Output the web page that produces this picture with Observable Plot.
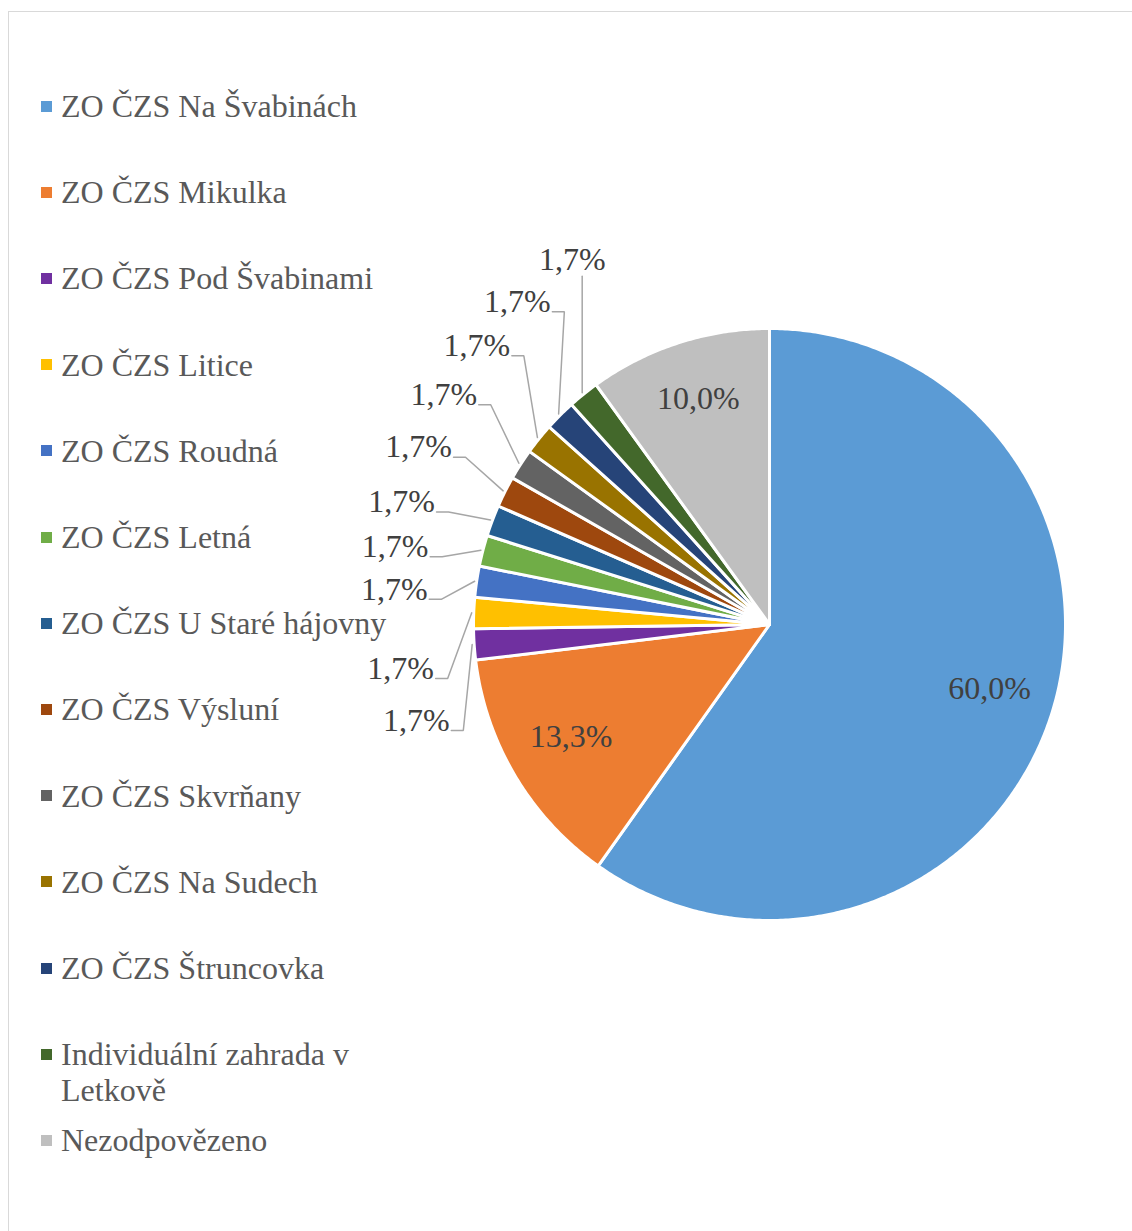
<!DOCTYPE html>
<html>
<head>
<meta charset="utf-8">
<script src="https://cdn.jsdelivr.net/npm/d3@7"></script>
<script src="https://cdn.jsdelivr.net/npm/@observablehq/plot@0.6"></script>
<style>
html,body{margin:0;padding:0;background:#fff;overflow:hidden}
#wrap{position:relative;width:1132px;height:1231px;font-family:"Liberation Serif","Times New Roman",serif;overflow:hidden}
#frame{position:absolute;left:8px;top:11px;width:1300px;height:1400px;border-left:1.5px solid #d9d9d9;border-top:1.5px solid #d9d9d9;box-sizing:border-box}
#chart{position:absolute;left:0;top:0}
.lg-item{position:absolute;left:0;height:86px}
.lg-mark{position:absolute;left:41px;top:12.5px;width:11px;height:11px}
.lg-text{position:absolute;left:61px;top:0;width:340px;font-size:32px;line-height:36px;color:#595959;white-space:normal}
</style>
</head>
<body>
<div id="wrap">
  <div id="frame"></div>
  <div id="legend"></div>
  <div id="chart"></div>
</div>
<script>
// ---- data ----
const categories = [
  "ZO ČZS Na Švabinách",
  "ZO ČZS Mikulka",
  "ZO ČZS Pod Švabinami",
  "ZO ČZS Litice",
  "ZO ČZS Roudná",
  "ZO ČZS Letná",
  "ZO ČZS U Staré hájovny",
  "ZO ČZS Výsluní",
  "ZO ČZS Skvrňany",
  "ZO ČZS Na Sudech",
  "ZO ČZS Štruncovka",
  "Individuální zahrada v Letkově",
  "Nezodpovězeno"
];
const shares = [60.0, 13.3, 1.7, 1.7, 1.7, 1.7, 1.7, 1.7, 1.7, 1.7, 1.7, 1.7, 10.0];
const colors = ["#5B9BD5","#ED7D31","#7030A0","#FFC000","#4472C4","#70AD47","#255E91","#9E480E","#636363","#997300","#264478","#43682B","#BFBFBF"];

// ---- layout constants ----
const W = 1132, H = 1231, CX = 769, CY = 624, R = 296;
const fmt = v => d3.format(".1f")(v).replace(".", ",") + "%";

// ---- legend (HTML) ----
const lg = document.getElementById("legend");
const legendBoxes = [];
categories.forEach((c, i) => {
  const it = document.createElement("div");
  it.className = "lg-item";
  it.style.top = (88 + i * 86.2) + "px";
  const m = document.createElement("div");
  m.className = "lg-mark";
  m.style.background = colors[i];
  const t = document.createElement("div");
  t.className = "lg-text";
  const s = document.createElement("span");
  s.textContent = c;
  t.appendChild(s);
  it.appendChild(m); it.appendChild(t);
  lg.appendChild(it);
});
lg.querySelectorAll(".lg-text span").forEach(s => {
  for (const r of s.getClientRects()) legendBoxes.push({x0: r.left, x1: r.right, y0: r.top, y1: r.bottom});
});

// ---- pie geometry ----
const table = categories.map((c, i) => ({cat: c, value: shares[i]}));
const arcs = d3.pie().sort(null).value(d => d.value).startAngle(0).endAngle(2 * Math.PI)(table);

const slicePts = [];
for (const a of arcs) {
  slicePts.push({cat: a.data.cat, x: 0, y: 0});
  const n = Math.max(2, Math.ceil((a.endAngle - a.startAngle) / (0.5 * Math.PI / 180)));
  for (let k = 0; k <= n; k++) {
    const t = a.startAngle + (a.endAngle - a.startAngle) * k / n;
    slicePts.push({cat: a.data.cat, x: Math.sin(t), y: Math.cos(t)});
  }
}

const mid = a => (a.startAngle + a.endAngle) / 2;
const isSmall = a => a.data.value < 5;
const deg = Math.PI / 180;

// inside labels
const inner = arcs.filter(a => !isSmall(a)).map(a => ({
  label: fmt(a.data.value), x: 0.78 * Math.sin(mid(a)), y: 0.78 * Math.cos(mid(a)) + 0.02
}));

// outside labels: fanned around the small slices, nudged off the legend and each other
const small = arcs.filter(isSmall);
const groupMid = d3.mean(small, mid) - 1 * deg;
const step = 8.4 * deg;
const rIn = 366 / R, rOut = 415 / R;
const halfW = 33, halfH = 16, gap = 10; // px
const placed = [];
const overlaps = (b, c, pad = 0) => b.x0 < c.x1 && b.x1 > c.x0 && b.y0 - pad < c.y1 && b.y1 + pad > c.y0;
const outer = small.map((a, i) => {
  let ang = groupMid + (i - (small.length - 1) / 2) * step;
  const rr = rIn + (rOut - rIn) * i / (small.length - 1);
  let px, py, box;
  for (let it = 0; it < 120; it++) {
    px = CX + R * rr * Math.sin(ang);
    py = CY - R * rr * Math.cos(ang);
    box = {x0: px - halfW, x1: px + halfW, y0: py - halfH, y1: py + halfH};
    if (!legendBoxes.some(b => overlaps(box, b)) && !placed.some(b => overlaps(box, b, gap))) break;
    ang += 0.25 * deg;
  }
  placed.push(box);
  return {id: i, label: fmt(a.data.value), x: (px - CX) / R, y: (CY - py) / R,
          ex: (1 + 2 / R) * Math.sin(mid(a)), ey: (1 + 2 / R) * Math.cos(mid(a))};
});
const hw = halfW / R;
const leaderPts = [];
for (const o of outer) {
  const right = o.x + hw;
  if (o.ex > right + 4 / R) {
    const ly = o.y - 10 / R;
    leaderPts.push({id: o.id, x: right + 2 / R, y: ly});
    leaderPts.push({id: o.id, x: right + 14 / R, y: ly});
    leaderPts.push({id: o.id, x: o.ex, y: o.ey});
  } else {
    leaderPts.push({id: o.id, x: o.ex, y: o.y - 17 / R});
    leaderPts.push({id: o.id, x: o.ex, y: o.ey});
  }
}

const chart = Plot.plot({
  width: W, height: H, margin: 0,
  x: {domain: [-CX / R, (W - CX) / R], range: [0, W], axis: null},
  y: {domain: [-(H - CY) / R, CY / R], range: [H, 0], axis: null},
  color: {domain: categories, range: colors},
  style: {background: "transparent", overflow: "visible"},
  marks: [
    Plot.line(slicePts, {x: "x", y: "y", z: "cat", fill: "cat", stroke: "white", strokeWidth: 3, curve: "linear-closed", strokeLinejoin: "round"}),
    Plot.line(leaderPts, {x: "x", y: "y", z: "id", stroke: "#a6a6a6", strokeWidth: 1.5, curve: "linear", strokeLinejoin: "miter"}),
    Plot.text(inner, {x: "x", y: "y", text: "label", fontSize: 32, fontFamily: "Liberation Serif", fill: "#404040", textAnchor: "middle", lineAnchor: "middle"}),
    Plot.text(outer, {x: "x", y: "y", text: "label", fontSize: 32, fontFamily: "Liberation Serif", fill: "#404040", textAnchor: "middle", lineAnchor: "middle"})
  ]
});
document.getElementById("chart").appendChild(chart);
</script>
</body>
</html>
